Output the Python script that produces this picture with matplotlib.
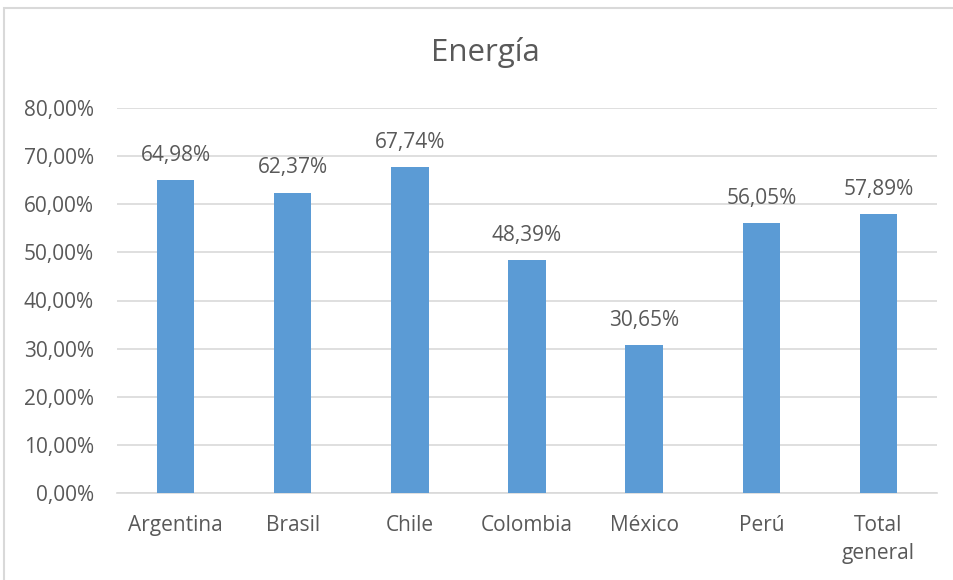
import matplotlib.pyplot as plt
from matplotlib.patches import Rectangle
from matplotlib.ticker import FuncFormatter

# porcentaje por país
paises = ["Argentina", "Brasil", "Chile", "Colombia", "México", "Perú", "Total\ngeneral"]
valores = [64.98, 62.37, 67.74, 48.39, 30.65, 56.05, 57.89]
etiquetas = ["64,98%", "62,37%", "67,74%", "48,39%", "30,65%", "56,05%", "57,89%"]

azul = "#5B9BD5"
gris_txt = "#595959"
gris_lin = "#D9D9D9"
tam = 15

plt.rcParams['font.family'] = ['Open Sans', 'DejaVu Sans']

fig = plt.figure(figsize=(9.54, 5.8), dpi=100)
ax = fig.add_axes([117/954, 1-493/580, 820/954, 385/580])

x = range(len(paises))
barras = ax.bar(x, valores, width=0.32, color=azul, zorder=3)

for b, txt in zip(barras, etiquetas):
    ax.annotate(txt, (b.get_x() + b.get_width()/2, b.get_height()),
                xytext=(0, 18), textcoords="offset points",
                ha="center", va="center", fontsize=tam, color=gris_txt)

ax.set_xlim(-0.5, len(paises) - 0.5)
ax.set_ylim(0, 80)
ax.set_yticks(range(0, 81, 10))
ax.yaxis.set_major_formatter(FuncFormatter(lambda v, p: f"{v:.2f}%".replace(".", ",")))
ax.set_xticks(list(x))
ax.set_xticklabels(paises, linespacing=1.45)

ax.grid(axis="y", color=gris_lin, linewidth=1.2, zorder=0)
for s in ["top", "right", "left"]:
    ax.spines[s].set_visible(False)
ax.spines["bottom"].set_color(gris_lin)
ax.spines["bottom"].set_linewidth(1.2)
ax.tick_params(axis="y", length=0, pad=16.5, labelsize=tam, labelcolor=gris_txt)
ax.tick_params(axis="x", length=0, pad=16, labelsize=tam, labelcolor=gris_txt)

fig.text(485.5/954, 1 - 52/580, "Energía", ha="center", va="center",
         fontsize=22.5, color=gris_txt)

# marco del gráfico
fig.patches.append(Rectangle((4/954, -0.02), 1.02, 1 - 8/580 + 0.02,
                             transform=fig.transFigure, fill=False,
                             edgecolor=gris_lin, linewidth=1.5))

fig.savefig("out.png", dpi=100)
